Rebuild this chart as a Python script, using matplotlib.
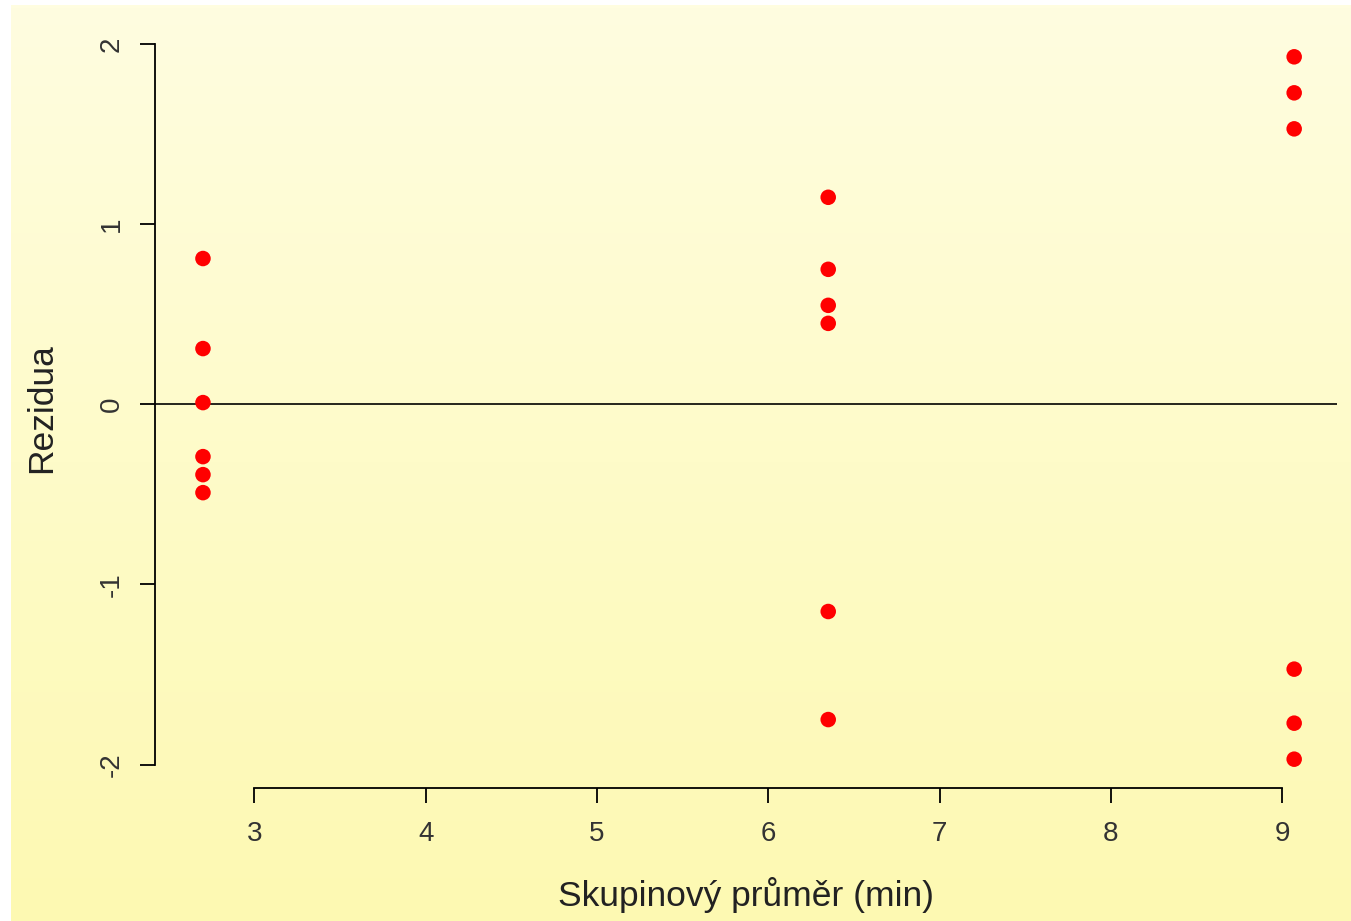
import numpy as np
import matplotlib
matplotlib.use("Agg")
import matplotlib.pyplot as plt

plt.rcParams['font.family'] = ['Liberation Sans', 'DejaVu Sans']

# skupinové průměry a rezidua
x_groups = [2.70, 6.35, 9.07]
resid_a = [0.81, 0.31, 0.01, -0.29, -0.39, -0.49]
resid_b = [1.15, 0.75, 0.55, 0.45, -1.15, -1.75]
resid_c = [1.93, 1.73, 1.53, -1.47, -1.77, -1.97]
x_ticks = [3, 4, 5, 6, 7, 8, 9]
y_ticks = [-2, -1, 0, 1, 2]

W, H = 1351, 921
fig = plt.figure(figsize=(W / 100, H / 100), dpi=100)
fig.patch.set_facecolor("white")

# pozadí s přechodem (světle žlutá)
bg = fig.add_axes([11 / W, 0, 1 - 11 / W, 1 - 5 / H])
top = np.array([255, 253, 224]) / 255
bot = np.array([253, 249, 178]) / 255
t = np.linspace(0, 1, 256)[:, None]
grad = top[None, :] * (1 - t) + bot[None, :] * t
bg.imshow(grad[:, None, :], aspect="auto", extent=[0, 1, 0, 1])
bg.axis("off")

ax = fig.add_axes([155 / W, 1 - 788 / H, (1337 - 155) / W, (788 - 28) / H])
ax.patch.set_alpha(0)

xs = np.concatenate([[x_groups[0]] * len(resid_a),
                     [x_groups[1]] * len(resid_b),
                     [x_groups[2]] * len(resid_c)])
ys = np.concatenate([resid_a, resid_b, resid_c])
ax.scatter(xs, ys, s=125, color="#ff0000", edgecolors="none", zorder=3)

# R-style rozsah os (4 %)
ax.set_xlim(2.42, 9.32)
ax.set_ylim(-2.13, 2.09)

ax.axhline(0, color="black", lw=1.2, zorder=2)

for s in ["top", "right"]:
    ax.spines[s].set_visible(False)
ax.spines["left"].set_bounds(-2, 2)
ax.spines["bottom"].set_bounds(3, 9)
ax.spines["left"].set_linewidth(1.3)
ax.spines["bottom"].set_linewidth(1.3)

ax.set_xticks(x_ticks)
ax.set_yticks(y_ticks)
ax.set_yticklabels([str(v) for v in y_ticks], rotation=90, va="center")
ax.tick_params(axis="both", length=11, width=1.3, labelsize=20, colors="black",
               labelcolor="#333333")
ax.tick_params(axis="x", pad=12.5)
ax.tick_params(axis="y", pad=11)

ax.set_xlabel("Skupinový průměr (min)", fontsize=25.5, color="#222222", labelpad=22)
ax.set_ylabel("Rezidua", fontsize=25.5, color="#222222", labelpad=29)

fig.savefig("out.png", dpi=100)
